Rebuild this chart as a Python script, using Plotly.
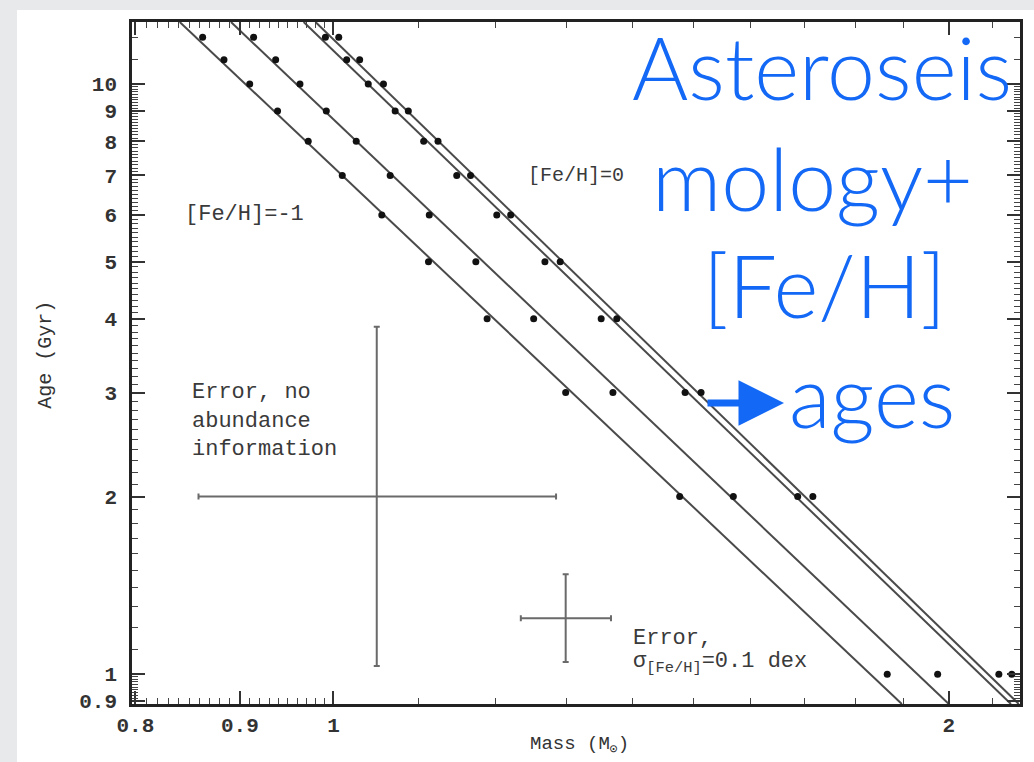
import math
import numpy as np
import plotly.graph_objects as go

# Ages (Gyr) at which the model tracks are sampled
AGES = [12, 11, 10, 9, 8, 7, 6, 5, 4, 3, 2, 1]

# Stellar mass (solar units) reaching each age, one list per composition track
MASS_TRACK_1 = [0.863, 0.884, 0.910, 0.939, 0.972, 1.010, 1.056, 1.113, 1.189, 1.299, 1.477, 1.866]
MASS_TRACK_2 = [0.914, 0.937, 0.963, 0.992, 1.026, 1.066, 1.114, 1.174, 1.253, 1.370, 1.569, 1.975]
MASS_TRACK_3 = [0.991, 1.015, 1.040, 1.072, 1.107, 1.149, 1.202, 1.269, 1.352, 1.486, 1.687, 2.116]
MASS_TRACK_4 = [1.006, 1.030, 1.058, 1.088, 1.125, 1.167, 1.221, 1.291, 1.376, 1.513, 1.716, 2.147]

# Power-law fits drawn across the frame: mass at the oldest and youngest age shown
FIT_AGES = [12.74, 0.89]
FIT_MASS_1 = [0.841, 1.897]
FIT_MASS_2 = [0.891, 2.000]
FIT_MASS_3 = [0.967, 2.145]
FIT_MASS_4 = [0.980, 2.164]

# Error crosses: centre, mass span and age span
ERR_BIG_CENTER = [1.050, 2.0]
ERR_BIG_MASS = [0.859, 1.285]
ERR_BIG_AGE = [1.032, 3.88]
ERR_SMALL_CENTER = [1.299, 1.244]
ERR_SMALL_MASS = [1.235, 1.367]
ERR_SMALL_AGE = [1.048, 1.477]

# Axis ticks
X_TICKS = [0.8, 0.9, 1, 2]
X_LABELS = ["0.8", "0.9", "1", "2"]
Y_TICKS = [0.9, 1, 2, 3, 4, 5, 6, 7, 8, 9, 10]
Y_LABELS = ["0.9", "1", "2", "3", "4", "5", "6", "7", "8", "9", "10"]

X_RANGE = [0.797, 2.167]
Y_RANGE = [0.890, 12.74]

LINE_INK = "#4a4a4a"
MONO = "Liberation Mono, DejaVu Sans Mono, monospace"
BLUE = "#1368f6"
SLIDE_GREY = "#e8e9eb"

fig = go.Figure()

for fit in (FIT_MASS_1, FIT_MASS_2, FIT_MASS_3, FIT_MASS_4):
    fig.add_trace(go.Scatter(x=fit, y=FIT_AGES, mode="lines",
                             line=dict(color=LINE_INK, width=2), showlegend=False,
                             hoverinfo="skip"))

for i, track in enumerate((MASS_TRACK_1, MASS_TRACK_2, MASS_TRACK_3, MASS_TRACK_4)):
    fig.add_trace(go.Scatter(x=track, y=AGES, mode="markers", name=f"track {i + 1}",
                             marker=dict(color="#111", size=7, symbol="circle"),
                             showlegend=False))


def cross(center, mass_span, age_span):
    cx, cy = center
    return go.Scatter(
        x=[cx], y=[cy], mode="markers", marker=dict(size=1, color="rgba(0,0,0,0)"),
        error_x=dict(type="data", symmetric=False, array=[mass_span[1] - cx],
                     arrayminus=[cx - mass_span[0]], color="#6a6a6a", thickness=2, width=3),
        error_y=dict(type="data", symmetric=False, array=[age_span[1] - cy],
                     arrayminus=[cy - age_span[0]], color="#6a6a6a", thickness=2, width=3),
        showlegend=False, hoverinfo="skip")


fig.add_trace(cross(ERR_BIG_CENTER, ERR_BIG_MASS, ERR_BIG_AGE))
fig.add_trace(cross(ERR_SMALL_CENTER, ERR_SMALL_MASS, ERR_SMALL_AGE))

x_minor = [v for v in np.round(np.arange(0.80, 1.0, 0.01), 2) if v != 0.9]
x_minor += [v for v in np.round(np.arange(1.1, 2.15, 0.1), 1) if v != 2.0]
y_minor = [v for v in np.round(np.arange(0.90, 1.0, 0.01), 2)]
y_minor += [v for v in np.round(np.arange(1.1, 10.0, 0.1), 1) if abs(v - round(v)) > 1e-6]
y_minor += [11, 12]

axis_common = dict(
    type="log", showgrid=False, zeroline=False, showline=True, linewidth=2.5,
    linecolor="#222", mirror="ticks", ticks="inside", ticklen=13, tickwidth=1.8,
    tickcolor="#333", tickmode="array",
    tickfont=dict(family=MONO, size=21, color="#333", weight="bold"),
)

fig.update_xaxes(**axis_common, range=[math.log10(X_RANGE[0]), math.log10(X_RANGE[1])],
                 tickvals=X_TICKS, ticktext=X_LABELS, ticklabelstandoff=0,
                 minor=dict(tickmode="array", tickvals=x_minor, ticks="inside",
                            ticklen=6, tickwidth=1.4, tickcolor="#444"))
fig.update_yaxes(**axis_common, range=[math.log10(Y_RANGE[0]), math.log10(Y_RANGE[1])],
                 tickvals=Y_TICKS, ticktext=Y_LABELS, ticklabelstandoff=8,
                 minor=dict(tickmode="array", tickvals=y_minor, ticks="inside",
                            ticklen=6, tickwidth=1.4, tickcolor="#444"))


def data_note(text, mass, age, size=22, **kw):
    fig.add_annotation(x=math.log10(mass), y=math.log10(age), xref="x", yref="y",
                       text=text, showarrow=False, xanchor="left", yanchor="middle",
                       font=dict(family=MONO, size=size, color="#3a3a3a"), **kw)


data_note("[Fe/H]=-1", 0.844, 6.0)
data_note("[Fe/H]=0", 1.242, 7.0, size=20)
data_note("Error, no", 0.851, 3.0)
data_note("abundance", 0.851, 2.68)
data_note("information", 0.851, 2.40)
data_note("Error,", 1.398, 1.151)
data_note("σ<sub>[Fe/H]</sub>=0.1 dex", 1.398, 1.045)

# Axis titles
fig.add_annotation(x=-0.112, y=0.512, xref="paper", yref="paper", text="Age (Gyr)",
                   textangle=-90, showarrow=False,
                   font=dict(family=MONO, size=20, color="#333"))
fig.add_annotation(x=0.5045, y=-0.081, xref="paper", yref="paper",
                   text="Mass (M<sub>⊙</sub>)", showarrow=False,
                   font=dict(family=MONO, size=19, color="#333"))

# Slide caption over the chart
for text, px, py in (("Asteroseis", 822, 66), ("mology+", 812, 177),
                     ("[Fe/H]", 824, 284), ("ages", 872, 394)):
    fig.add_annotation(x=(px - 132) / 888, y=(704 - py) / 682, xref="paper", yref="paper",
                       text=text, showarrow=False, xanchor="center", yanchor="middle",
                       font=dict(family="Lato, Open Sans, sans-serif", size=86,
                                 color=BLUE, weight=300))

fig.add_annotation(x=(784 - 132) / 888, y=(704 - 403) / 682, xref="paper", yref="paper",
                   text="", showarrow=True, ax=-78, ay=0, axref="pixel", ayref="pixel",
                   arrowhead=2, arrowsize=1.3, arrowwidth=7, arrowcolor=BLUE)

# White slide area on the grey canvas
fig.add_shape(type="rect", xref="paper", yref="paper",
              x0=(17 - 132) / 888, x1=(1040 - 132) / 888,
              y0=(704 - 770) / 682, y1=(704 - 10) / 682,
              fillcolor="white", line=dict(width=0), layer="below")

fig.update_layout(
    width=1034, height=762,
    margin=dict(l=132, r=14, t=22, b=58),
    paper_bgcolor=SLIDE_GREY, plot_bgcolor="white",
    showlegend=False,
)

fig.write_html("out.html")
